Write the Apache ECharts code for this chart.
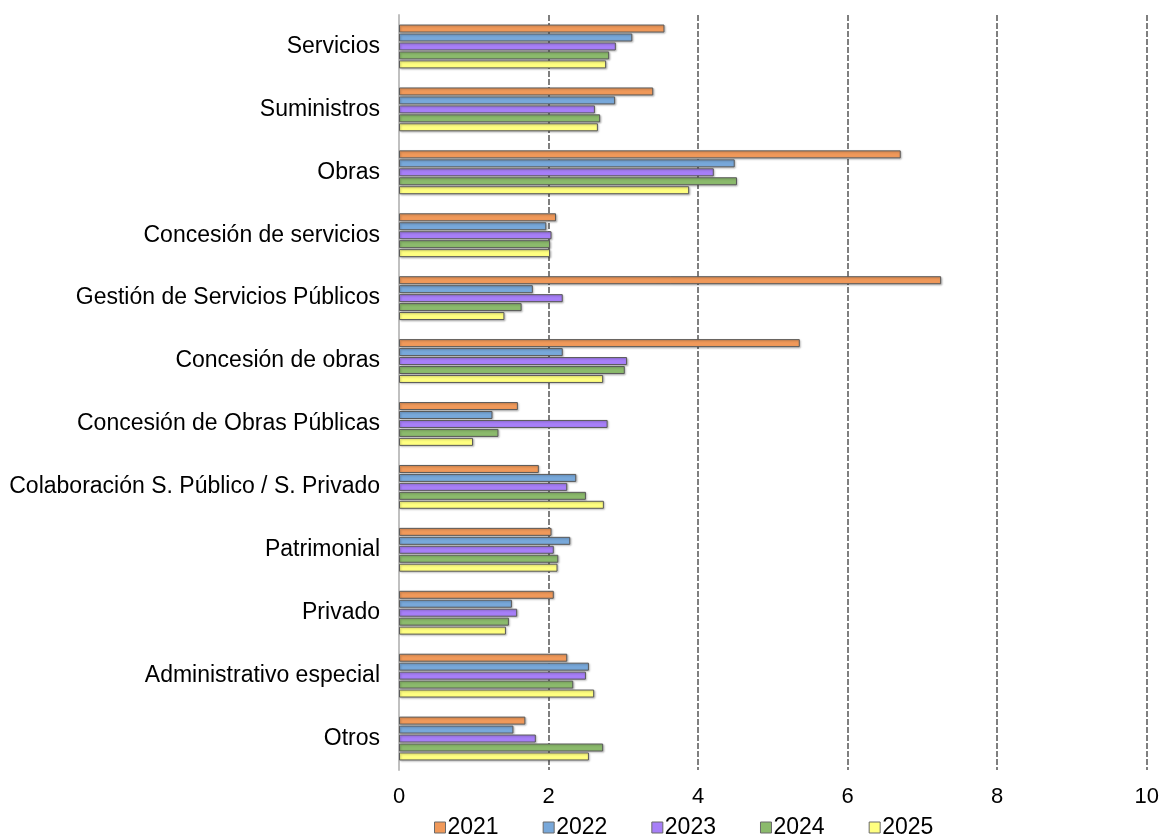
<!DOCTYPE html>
<html><head><meta charset="utf-8">
<script src="https://cdn.jsdelivr.net/npm/echarts@6/dist/echarts.min.js"></script>
<style>html,body{margin:0;padding:0;background:#fff}#c{width:1162px;height:838px}</style>
</head><body><div id="c"></div>
<script>
const categories = ["Servicios","Suministros","Obras","Concesión de servicios","Gestión de Servicios Públicos","Concesión de obras","Concesión de Obras Públicas","Colaboración S. Público / S. Privado","Patrimonial","Privado","Administrativo especial","Otros"];
const years = ["2021","2022","2023","2024","2025"];
const v2021 = [3.55,3.40,6.71,2.10,7.25,5.36,1.59,1.87,2.04,2.07,2.25,1.69];
const v2022 = [3.12,2.89,4.49,1.97,1.79,2.19,1.25,2.37,2.29,1.51,2.54,1.53];
const v2023 = [2.90,2.62,4.21,2.04,2.19,3.05,2.79,2.25,2.07,1.58,2.50,1.83];
const v2024 = [2.81,2.69,4.52,2.02,1.64,3.02,1.33,2.50,2.13,1.47,2.33,2.73];
const v2025 = [2.77,2.66,3.88,2.02,1.41,2.73,0.99,2.74,2.12,1.43,2.61,2.54];
const xTicks = [0,2,4,6,8,10];
const colors = ["#F0995A","#78A8DA","#A77FF8","#8BBA6C","#FFFF80"];
const values = [v2021,v2022,v2023,v2024,v2025];

const chart = echarts.init(document.getElementById('c'), null, {renderer:'canvas'});
chart.setOption({
  animation:false,
  textStyle:{fontFamily:'Liberation Sans, Arial, sans-serif'},
  grid:{left:399,right:14,top:15,bottom:68,containLabel:false},
  legend:{
    top:816,left:434,padding:0,
    data:years,
    icon:'rect',itemWidth:11,itemHeight:11,itemGap:44,
    itemStyle:{borderColor:'#6a6a6a',borderWidth:1},
    textStyle:{fontSize:23,color:'#000',padding:[0,0,0,-3]}
  },
  xAxis:{
    type:'value',min:xTicks[0],max:xTicks[xTicks.length-1],interval:2,
    axisLine:{show:false},axisTick:{show:false},
    axisLabel:{fontSize:22,color:'#000',margin:16},
    splitLine:{show:true,lineStyle:{color:'#7f7f7f',width:2,type:[6,2]}}
  },
  yAxis:{
    type:'category',data:categories,inverse:true,
    axisLine:{show:true,lineStyle:{color:'#c0c0c0',width:2}},
    axisTick:{show:false},
    axisLabel:{fontSize:23,color:'#000',margin:19}
  },
  series: years.map((y,i)=>({
    name:y,type:'bar',data:values[i],
    barWidth:8,barGap:'12%',
    itemStyle:{color:colors[i],borderColor:'#5a5a5a',borderWidth:1,
      shadowColor:'rgba(0,0,0,0.25)',shadowBlur:2,shadowOffsetX:1,shadowOffsetY:1}
  }))
});
</script></body></html>
